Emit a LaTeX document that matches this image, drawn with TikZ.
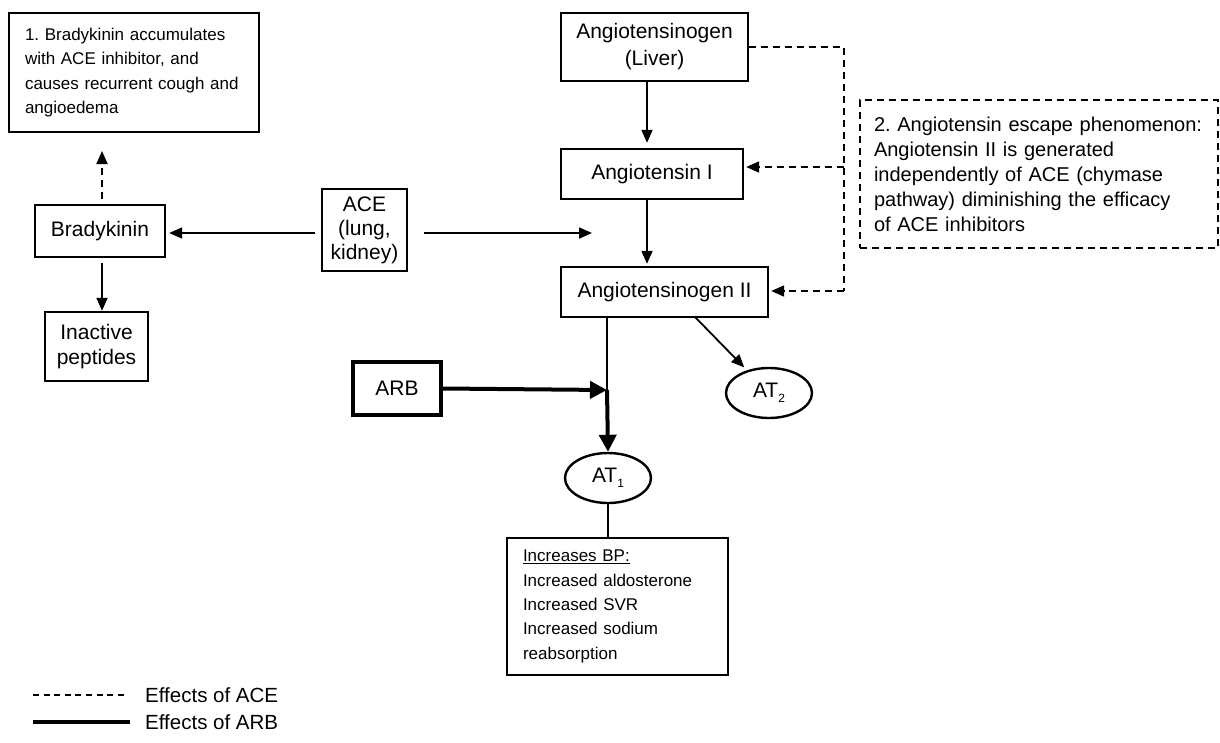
\documentclass[tikz,border=0pt]{standalone}
\usepackage{fontspec}
\setmainfont{Liberation Sans}
\frenchspacing
\usetikzlibrary{arrows.meta,shapes.geometric}
\begin{document}
\begin{tikzpicture}[x=1pt,y=-1pt,
  box/.style={draw,line width=2.4pt,rectangle,inner sep=0pt,align=center},
  big/.style={font=\fontsize{21}{27}\selectfont},
  small/.style={font=\fontsize{17}{24.3}\selectfont},
  arr/.style={line width=1.8pt,-{Triangle[length=13pt,width=11pt]}},
  dsh/.style={line width=1.8pt,dash pattern=on 7pt off 5pt},
  thick arr/.style={line width=4pt,-{Triangle[length=17pt,width=17pt]}},
  oval/.style={draw,line width=2.4pt,ellipse,inner sep=0pt,minimum width=86pt,minimum height=50pt,font=\fontsize{21}{24}\selectfont}
]
\useasboundingbox (0,0) rectangle (1220,742);

% boxes
\node[box,small,align=left,text width=218pt,inner xsep=16pt,minimum height=119pt] (b1) at (134,72.5)
  {\frenchspacing 1. Bradykinin accumulates\\with ACE inhibitor, and\\causes recurrent cough and\\angioedema\\[-12pt]};
\node[box,big,minimum width=187pt,minimum height=68pt] (liver) at (654.5,47) {Angiotensinogen\\(Liver)};
\node[box,big,minimum width=182pt,minimum height=50pt] (ang1) at (652,174) {Angiotensin I};
\node[box,big,minimum width=207pt,minimum height=50pt] (ang2) at (664.5,292) {Angiotensinogen II};
\node[box,dsh,font=\fontsize{20}{25}\selectfont,align=left,text width=330pt,inner xsep=14pt,minimum height=148pt] (b2) at (1039,174)
  {\frenchspacing\mbox{2. Angiotensin escape phenomenon:}\\Angiotensin II is generated\\independently of ACE (chymase\\pathway) diminishing the efficacy\\of ACE inhibitors\\[-8pt]};
\node[box,big,minimum width=130pt,minimum height=52pt] (brady) at (100,231) {Bradykinin};
\node[box,font=\fontsize{21}{25}\selectfont,minimum width=103pt,minimum height=69pt] (inact) at (96.5,346.5) {Inactive\\peptides};
\node[box,font=\fontsize{21}{24}\selectfont,minimum width=85pt,minimum height=82pt] (ace) at (364.5,230) {ACE\\(lung,\\kidney)};
\node[box,big,line width=4pt,minimum width=88pt,minimum height=53pt] (arb) at (397,388.5) {ARB};
\node[oval] (at1) at (608,478) {AT\raisebox{-0.45ex}{\fontsize{12}{12}\selectfont 1}};
\node[oval] (at2) at (769,393) {AT\raisebox{-0.45ex}{\fontsize{12}{12}\selectfont 2}};
\node[box,small,align=left,text width=189pt,inner xsep=16pt,minimum height=137pt] (bp) at (617.5,606.5)
  {\underline{Increases BP:}\\Increased aldosterone\\Increased SVR\\Increased sodium\\reabsorption\\[-10pt]};

% coordinates
\coordinate (vx) at (647,0);
\coordinate (dj1) at (844,167);
\coordinate (dj2) at (844,291);
\coordinate (acetip) at (592,233);
\coordinate (bx) at (102,0);
\coordinate (dashtip) at (102,151);
\coordinate (jx) at (607,390);
\coordinate (at2start) at (695,317);

% main chain
\draw[arr,shorten >=5pt] (liver.south -| vx) -- (ang1.north -| vx);
\draw[arr,shorten >=2pt] (ang1.south -| vx) -- (ang2.north -| vx);

% escape dashed
\draw[dsh] (liver.east) -| (dj2);
\draw[dsh,-{Triangle[length=13pt,width=11pt]},shorten >=2pt] (dj2) -- (dj2 -| ang2.east);
\draw[dsh,-{Triangle[length=13pt,width=11pt]},shorten >=2pt] (dj1) -- (dj1 -| ang1.east);

% ACE
\draw[arr,shorten <=6pt,shorten >=3pt] (ace.west |- acetip) -- (brady.east |- acetip);
\draw[arr,shorten <=16pt] (ace.east |- acetip) -- (acetip);

% bradykinin
\draw[arr,shorten <=5pt] (brady.south -| bx) -- (inact.north -| bx);
\draw[dsh,-{Triangle[length=13pt,width=11pt]},shorten <=5pt] (brady.north -| bx) -- (dashtip);

% Ang II outputs
\draw[line width=1.4pt] (ang2.south -| jx) -- (jx);
\draw[thick arr] (arb.east) -- (jx);
\draw[thick arr] (jx) -- (at1.north);
\draw[arr,shorten >=4pt] (at2start) -- (at2.134);
\draw[line width=1.8pt] (at1.south) -- (bp.north -| at1.south);

% legend
\coordinate (l1a) at (33,695); \coordinate (l1b) at (128,695);
\coordinate (l2a) at (33,722); \coordinate (l2b) at (130,722);
\draw[line width=1.4pt,dash pattern=on 6pt off 4.6pt] (l1a) -- (l1b);
\draw[line width=4pt] (l2a) -- (l2b);
\node[anchor=west,inner sep=0pt,font=\fontsize{20.5}{24}\selectfont] (lg1) at (145,695) {Effects of ACE};
\node[anchor=west,inner sep=0pt,font=\fontsize{20.5}{24}\selectfont] (lg2) at (145,722) {Effects of ARB};
\end{tikzpicture}
\end{document}
